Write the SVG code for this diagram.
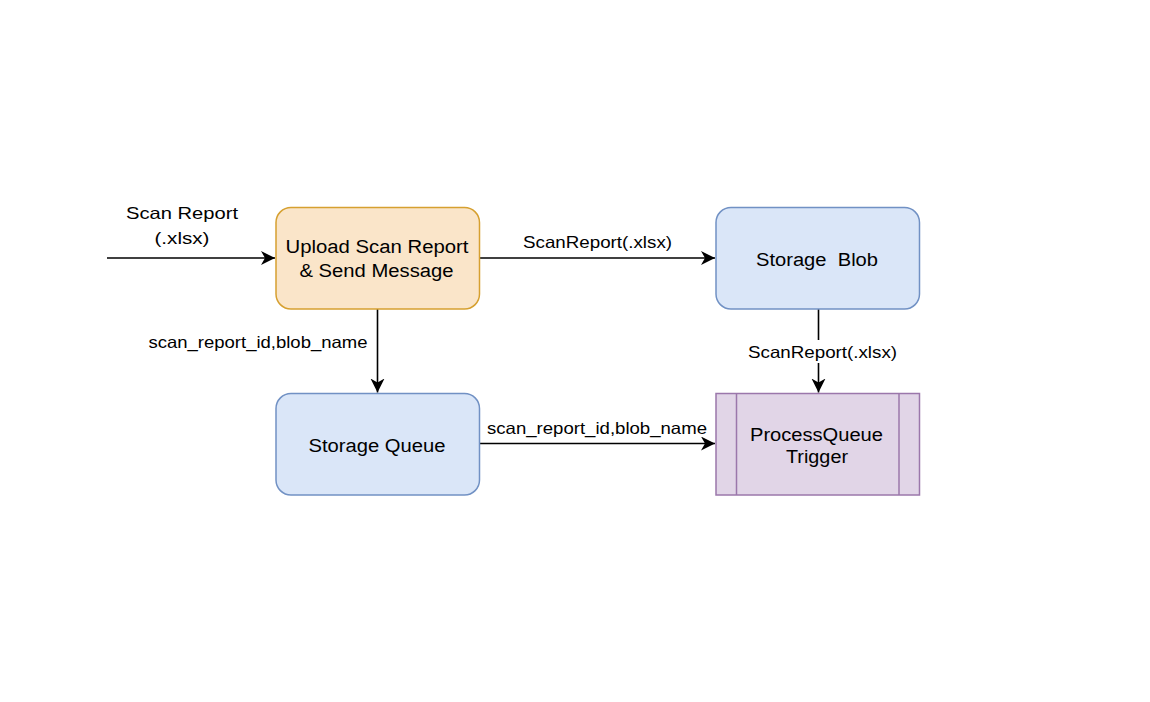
<svg xmlns="http://www.w3.org/2000/svg" width="1150" height="702" viewBox="0 0 1150 702">
<style>
text{font-family:"Liberation Sans",Arial,sans-serif;fill:#000;text-anchor:middle}
.n{font-size:18px}
.l{font-size:16.5px}
.c{fill:none;stroke:#000;stroke-width:1.6}
.o{fill:#fae5c9;stroke:#d6a030;stroke-width:1.5}
.b{fill:#dae6f8;stroke:#7191c4;stroke-width:1.5}
.p{fill:#e1d5e7;stroke:#9b77ab;stroke-width:1.5}
</style>
<defs>
<marker id="ah" markerUnits="userSpaceOnUse" markerWidth="16" markerHeight="16" viewBox="0 0 16 16" refX="14" refY="7" orient="auto">
<path d="M0,0 L14,7 L0,14 L4,7 Z" fill="#000"/>
</marker>
</defs>
<rect width="1150" height="702" fill="#fff"/>
<g id="connectors">
<g id="e-in">
<line class="c" x1="107" y1="258" x2="275" y2="258" marker-end="url(#ah)"/>
<text class="l" x="182" y="219" textLength="112" lengthAdjust="spacingAndGlyphs">Scan Report</text>
<text class="l" x="182" y="244" textLength="55" lengthAdjust="spacingAndGlyphs">(.xlsx)</text>
</g>
<g id="e-upload-blob">
<line class="c" x1="480" y1="258" x2="715" y2="258" marker-end="url(#ah)"/>
<text class="l" x="597.5" y="247.5" textLength="149" lengthAdjust="spacingAndGlyphs">ScanReport(.xlsx)</text>
</g>
<g id="e-upload-queue">
<line class="c" x1="377.5" y1="309" x2="377.5" y2="392.5" marker-end="url(#ah)"/>
<text class="l" x="258" y="348" textLength="219" lengthAdjust="spacingAndGlyphs">scan_report_id,blob_name</text>
</g>
<g id="e-blob-process">
<line class="c" x1="818.5" y1="309" x2="818.5" y2="392.5" marker-end="url(#ah)"/>
<rect x="747" y="340" width="152" height="23" fill="#fff"/>
<text class="l" x="822.5" y="357.5" textLength="149" lengthAdjust="spacingAndGlyphs">ScanReport(.xlsx)</text>
</g>
<g id="e-queue-process">
<line class="c" x1="480" y1="443.5" x2="715" y2="443.5" marker-end="url(#ah)"/>
<text class="l" x="597" y="434" textLength="220" lengthAdjust="spacingAndGlyphs">scan_report_id,blob_name</text>
</g>
</g>
<g id="upload">
<rect class="o" x="276" y="207.5" width="203.5" height="101.5" rx="15"/>
<text class="n" x="377" y="253" textLength="183" lengthAdjust="spacingAndGlyphs">Upload Scan Report</text>
<text class="n" x="376.5" y="277" textLength="154" lengthAdjust="spacingAndGlyphs">&amp; Send Message</text>
</g>
<g id="queue">
<rect class="b" x="276" y="393.5" width="203.5" height="101.5" rx="15"/>
<text class="n" x="377" y="451.5" textLength="137" lengthAdjust="spacingAndGlyphs">Storage Queue</text>
</g>
<g id="blob">
<rect class="b" x="716" y="207.5" width="203.5" height="101.5" rx="15"/>
<text class="n" x="817" y="265.5" textLength="122" lengthAdjust="spacingAndGlyphs" xml:space="preserve">Storage  Blob</text>
</g>
<g id="process">
<rect class="p" x="716" y="393.5" width="203.5" height="101.5"/>
<line class="p" x1="736.5" y1="393.5" x2="736.5" y2="495"/>
<line class="p" x1="899" y1="393.5" x2="899" y2="495"/>
<text class="n" x="816.5" y="441" textLength="133" lengthAdjust="spacingAndGlyphs">ProcessQueue</text>
<text class="n" x="817" y="463" textLength="62" lengthAdjust="spacingAndGlyphs">Trigger</text>
</g>
</svg>
